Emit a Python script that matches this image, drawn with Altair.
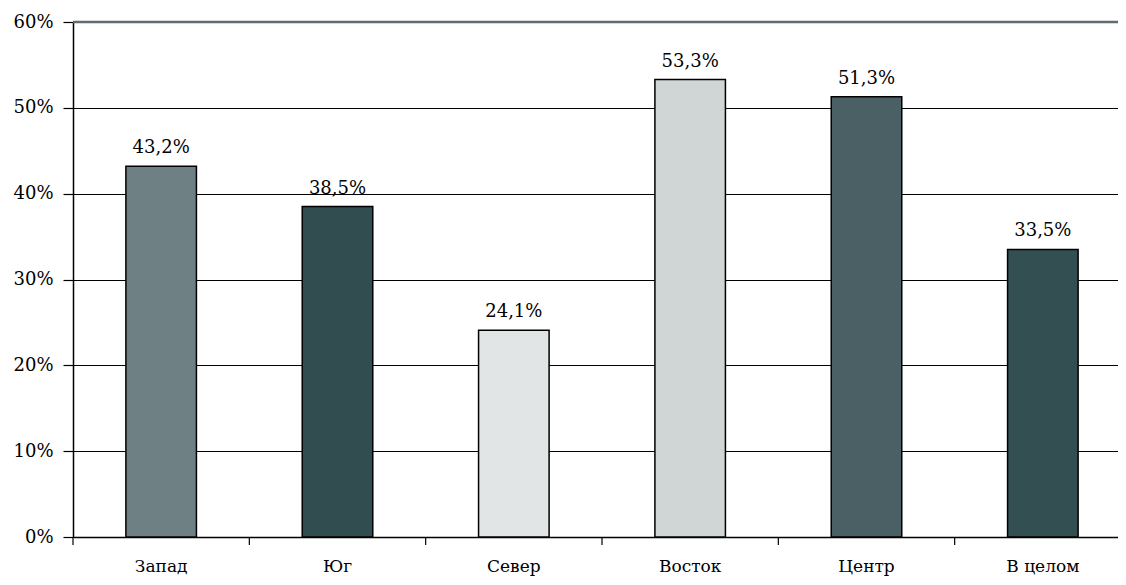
import altair as alt
import pandas as pd

categories = ["Запад", "Юг", "Север", "Восток", "Центр", "В целом"]
values = [43.2, 38.5, 24.1, 53.3, 51.3, 33.5]
colors = ["#6e8083", "#324d50", "#e2e5e5", "#d0d5d5", "#4a6064", "#334f51"]
y_ticks = [0, 10, 20, 30, 40, 50, 60]

df = pd.DataFrame({"cat": categories, "v": values})
FONT = "DejaVu Serif"

xscale = alt.Scale(domain=categories, paddingInner=0.6, paddingOuter=0.3, range=[0, 1058])
yscale = alt.Scale(domain=[0, 60], nice=False)

base = alt.Chart(df)

bars = base.mark_bar(stroke="black", strokeWidth=1.5).encode(
    x=alt.X("cat:N", scale=xscale, sort=categories, title=None,
            axis=alt.Axis(labelAngle=0, ticks=False, labelPadding=34,
                          labelBaseline="alphabetic",
                          labelFont=FONT, labelFontSize=17, labelColor="black",
                          domainColor="black", domainWidth=1.5)),
    y=alt.Y("v:Q", scale=yscale, title=None,
            axis=alt.Axis(values=y_ticks, labelExpr="datum.value + '%'",
                          grid=True, gridColor="black", gridWidth=1.2,
                          tickColor="black", tickSize=10, tickWidth=1.2,
                          domainColor="black", domainWidth=1.5,
                          labelFont=FONT, labelFontSize=18, labelColor="black",
                          labelPadding=10)),
    color=alt.Color("cat:N", scale=alt.Scale(domain=categories, range=colors), legend=None),
)

labels = base.transform_calculate(
    lbl="replace(format(datum.v, '.1f'), '.', ',') + '%'"
).mark_text(baseline="alphabetic", dy=-13, font=FONT, fontSize=18, color="black").encode(
    x=alt.X("cat:N", scale=xscale, sort=categories),
    y=alt.Y("v:Q", scale=yscale),
    text="lbl:N",
)

xticks = base.mark_rule(color="black", strokeWidth=1.2, xOffset=-52.9).encode(
    x=alt.X("cat:N", scale=xscale, sort=categories, bandPosition=0),
    y=alt.value(515),
    y2=alt.value(523),
)

top = alt.Chart(pd.DataFrame({"t": [60]})).mark_rule(color="#5c6c6f", strokeWidth=2.5).encode(
    y=alt.Y("t:Q", scale=yscale)
)

chart = alt.layer(bars, top, labels, xticks).properties(
    width=1045, height=515,
    autosize=alt.AutoSizeParams(type="none"),
    padding={"left": 65, "top": 14, "right": 0, "bottom": 40},
).configure_view(stroke=None)

chart.save("out.html", embed_options={"renderer": "svg", "actions": False})
